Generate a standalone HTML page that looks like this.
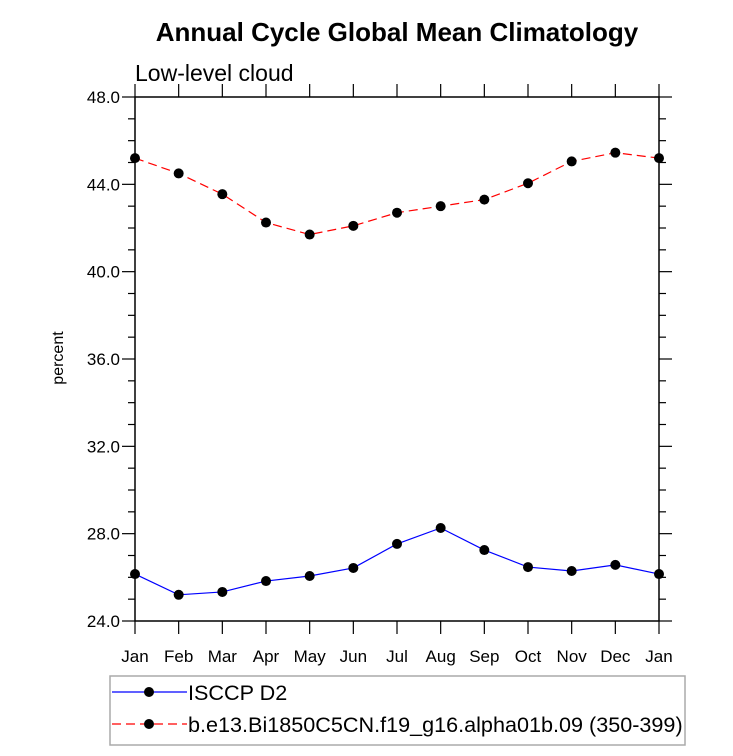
<!DOCTYPE html>
<html><head><meta charset="utf-8"><style>
body{margin:0;background:#fff;}
svg text{font-family:"Liberation Sans",Arial,sans-serif;}
</style></head><body>
<svg id="chart" width="733" height="751" xmlns="http://www.w3.org/2000/svg">
<text x="397" y="41" text-anchor="middle" font-size="26" font-weight="bold">Annual Cycle Global Mean Climatology</text>
<text x="135" y="81" font-size="23">Low-level cloud</text>
<text transform="translate(63,358) rotate(-90)" text-anchor="middle" font-size="16">percent</text>
<g id="axes"></g>
<g id="series"></g>
<g>
<rect x="110" y="676" width="575" height="69" fill="none" stroke="#aaa" stroke-width="1.5"/>
<line x1="112" y1="692" x2="187" y2="692" stroke="#0000ff" stroke-width="1.2"/>
<circle cx="149" cy="692" r="5" fill="#000"/>
<text x="188" y="700" font-size="21.6">ISCCP D2</text>
<line x1="112" y1="724" x2="187" y2="724" stroke="#ff0000" stroke-width="1.2" stroke-dasharray="9,5"/>
<circle cx="149" cy="724" r="5" fill="#000"/>
<text x="188" y="732" font-size="21.6">b.e13.Bi1850C5CN.f19_g16.alpha01b.09 (350-399)</text>
</g>
</svg>
<script>
const months=["Jan","Feb","Mar","Apr","May","Jun","Jul","Aug","Sep","Oct","Nov","Dec","Jan"];
const isccp=[26.15,25.2,25.33,25.83,26.06,26.43,27.53,28.26,27.25,26.47,26.29,26.57,26.15];
const model=[45.2,44.5,43.55,42.25,41.7,42.1,42.7,43.0,43.3,44.05,45.05,45.45,45.2];
const yTicks=[24,28,32,36,40,44,48];
const X0=135,X1=659,Y0=621,Y1=97,YMIN=24,YMAX=48;
const NS="http://www.w3.org/2000/svg";
function xs(i){return X0+i*(X1-X0)/(months.length-1);}
function ys(v){return Y0-(v-YMIN)*(Y0-Y1)/(YMAX-YMIN);}
function mk(tag,attrs,parent){const e=document.createElementNS(NS,tag);for(const k in attrs)e.setAttribute(k,attrs[k]);parent.appendChild(e);return e;}
const ax=document.getElementById('axes');
const frame=mk('rect',{x:X0,y:Y1,width:X1-X0,height:Y0-Y1,fill:'none',stroke:'#000','stroke-width':1.5},ax);


months.forEach((m,i)=>{
  const x=xs(i);
  mk('line',{x1:x,y1:Y0,x2:x,y2:Y0+13,stroke:'#000','stroke-width':1.2},ax);
  mk('line',{x1:x,y1:Y1,x2:x,y2:Y1-13,stroke:'#000','stroke-width':1.2},ax);
  const t=mk('text',{x:x,y:Y0+41,'text-anchor':'middle','font-size':17},ax);
  t.textContent=m;
  
  
});
for(let v=YMIN;v<=YMAX;v+=1){
  const y=ys(v);const major=(v%4===0);const L=major?13:7;
  mk('line',{x1:X0,y1:y,x2:X0-L,y2:y,stroke:'#000','stroke-width':1.2},ax);
  mk('line',{x1:X1,y1:y,x2:X1+L,y2:y,stroke:'#000','stroke-width':1.2},ax);
}
yTicks.forEach(v=>{
  const t=mk('text',{x:X0-15,y:ys(v)+6,'text-anchor':'end','font-size':17},ax);
  t.textContent=v.toFixed(1);
  
  
});
const sg=document.getElementById('series');
function drawSeries(vals,color,dash,name){
  const p=mk('polyline',{points:vals.map((v,i)=>xs(i)+','+ys(v)).join(' '),fill:'none',stroke:color,'stroke-width':1.2,'stroke-dasharray':dash},sg);
  
  
  vals.forEach((v,i)=>{
    const c=mk('circle',{cx:xs(i),cy:ys(v),r:5,fill:'#000'},sg);
    
    
  });
}
drawSeries(isccp,'#0000ff','none','isccp');
drawSeries(model,'#ff0000','9,5','model');
</script>
</body></html>
